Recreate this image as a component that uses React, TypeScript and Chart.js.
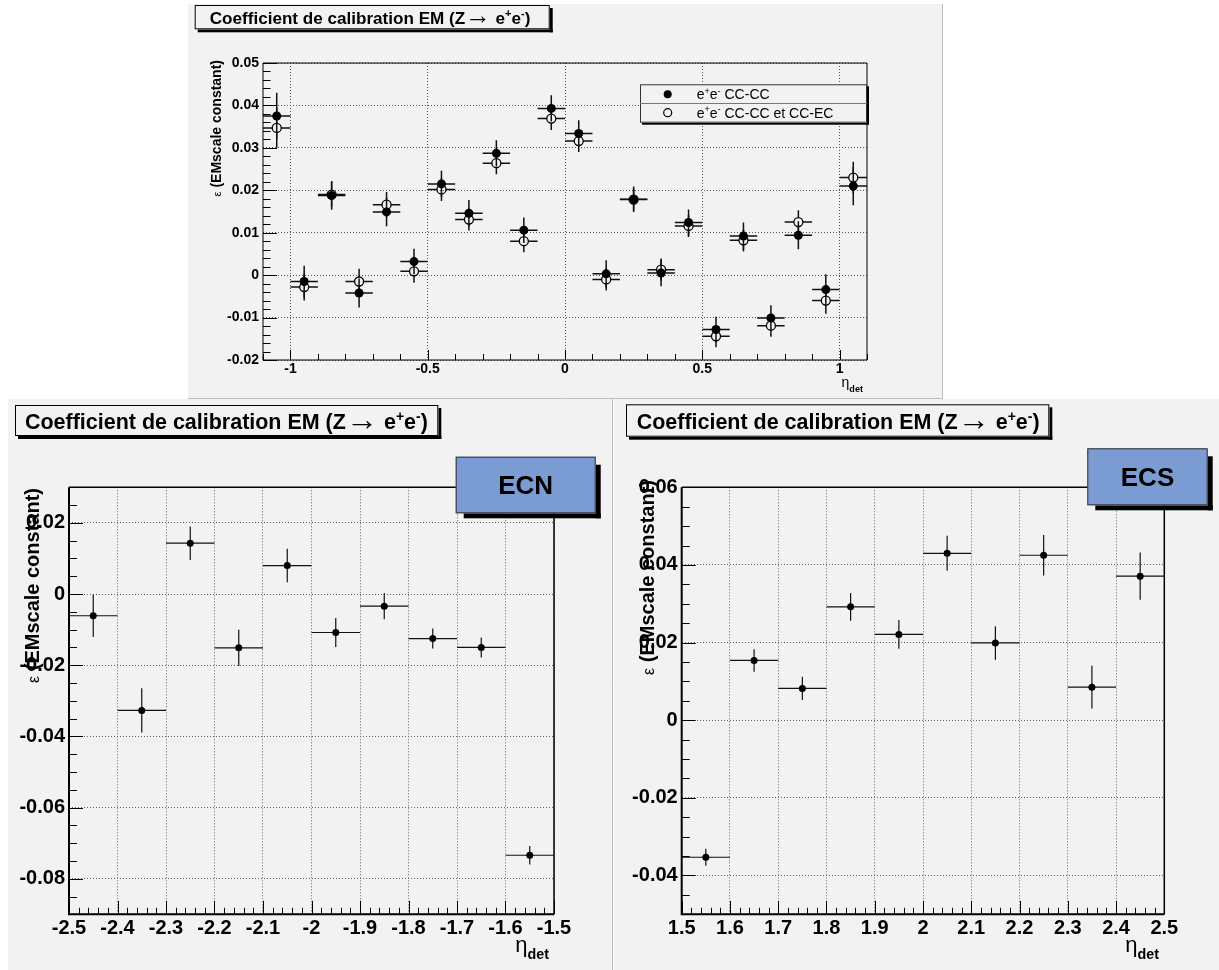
import React, { useEffect, useRef } from "react";
import { Chart, registerables } from "chart.js";

Chart.register(...registerables);

const FAMILY = '"Liberation Sans", Arial, Helvetica, sans-serif';
const BG = "#f2f2f2";
const BIN_HALF = 0.05;

// ---------- Top panel: CC (|eta_det| < 1.1) ----------
const etaCC = [-1.05, -0.95, -0.85, -0.75, -0.65, -0.55, -0.45, -0.35, -0.25, -0.15, -0.05, 0.05, 0.15, 0.25, 0.35, 0.45, 0.55, 0.65, 0.75, 0.85, 0.95, 1.05];
const epsCCCC = [0.0375, -0.0015, 0.0188, -0.0042, 0.0149, 0.0032, 0.0215, 0.0146, 0.0287, 0.0106, 0.0393, 0.0334, 0.0003, 0.0179, 0.0005, 0.0124, -0.0128, 0.0092, -0.0101, 0.0094, -0.0034, 0.021];
const errCCCC = [0.0055, 0.0037, 0.0034, 0.0034, 0.0034, 0.003, 0.0031, 0.0031, 0.0031, 0.003, 0.0031, 0.0031, 0.0032, 0.003, 0.0031, 0.0031, 0.003, 0.0032, 0.003, 0.0033, 0.0036, 0.0045];
const epsCCEC = [0.0347, -0.0028, 0.019, -0.0015, 0.0166, 0.0009, 0.0202, 0.0131, 0.0264, 0.008, 0.0369, 0.0316, -0.001, 0.0178, 0.0013, 0.0116, -0.0144, 0.0082, -0.0119, 0.0125, -0.006, 0.023];
const errCCEC = [0.0047, 0.0032, 0.003, 0.003, 0.003, 0.0027, 0.0027, 0.0026, 0.0026, 0.0026, 0.0027, 0.0026, 0.0026, 0.0026, 0.0026, 0.0026, 0.0026, 0.0026, 0.0026, 0.0028, 0.0031, 0.0037];
const xTicksCC = [-1, -0.5, 0, 0.5, 1];
const yTicksCC = [-0.02, -0.01, 0, 0.01, 0.02, 0.03, 0.04, 0.05];

// ---------- Bottom left: ECN ----------
const etaECN = [-2.45, -2.35, -2.25, -2.15, -2.05, -1.95, -1.85, -1.75, -1.65, -1.55];
const epsECN = [-0.0061, -0.0327, 0.0143, -0.0151, 0.008, -0.0108, -0.0034, -0.0125, -0.015, -0.0734];
const errECN = [0.006, 0.0062, 0.0047, 0.0051, 0.0047, 0.0041, 0.0037, 0.0028, 0.0028, 0.0026];
const xTicksECN = [-2.5, -2.4, -2.3, -2.2, -2.1, -2, -1.9, -1.8, -1.7, -1.6, -1.5];
const yTicksECN = [-0.08, -0.06, -0.04, -0.02, 0, 0.02];

// ---------- Bottom right: ECS ----------
const etaECS = [1.55, 1.65, 1.75, 1.85, 1.95, 2.05, 2.15, 2.25, 2.35, 2.45];
const epsECS = [-0.0353, 0.0154, 0.0082, 0.0292, 0.0221, 0.043, 0.0199, 0.0425, 0.0085, 0.0371];
const errECS = [0.0022, 0.0029, 0.003, 0.0036, 0.0037, 0.0045, 0.0043, 0.0052, 0.0055, 0.0061];
const xTicksECS = [1.5, 1.6, 1.7, 1.8, 1.9, 2, 2.1, 2.2, 2.3, 2.4, 2.5];
const yTicksECS = [-0.04, -0.02, 0, 0.02, 0.04, 0.06];

// ---------- Texts ----------
type Seg = { t: string; b?: boolean; sup?: boolean; sub?: boolean; k?: number };
const TITLE: Seg[] = [
  { t: "Coefficient de calibration EM (Z", b: true },
  { t: "\u2192", k: 1.5 },
  { t: " e", b: true },
  { t: "+", b: true, sup: true },
  { t: "e", b: true },
  { t: "-", b: true, sup: true },
  { t: ")", b: true },
];
const Y_TITLE: Seg[] = [{ t: "\u03b5", k: 0.8 }, { t: " (EMscale constant)", b: true }];
const X_TITLE: Seg[] = [{ t: "\u03b7" }, { t: "det", b: true, sub: true }];
const LABEL_CCCC: Seg[] = [{ t: "e" }, { t: "+", sup: true }, { t: "e" }, { t: "-", sup: true }, { t: " CC-CC" }];
const LABEL_CCEC: Seg[] = [{ t: "e" }, { t: "+", sup: true }, { t: "e" }, { t: "-", sup: true }, { t: " CC-CC et CC-EC" }];
const TAG_ECN = "ECN";
const TAG_ECS = "ECS";

function segFont(s: Seg, size: number) {
  const sz = size * (s.k ?? 1) * (s.sup || s.sub ? 0.65 : 1);
  return `${s.b ? "bold " : ""}${sz}px ${FAMILY}`;
}
function richWidth(ctx: CanvasRenderingContext2D, segs: Seg[], size: number) {
  let w = 0;
  for (const s of segs) {
    ctx.font = segFont(s, size);
    w += ctx.measureText(s.t).width;
  }
  return w;
}
function drawRich(ctx: CanvasRenderingContext2D, segs: Seg[], x: number, y: number, size: number) {
  ctx.textAlign = "left";
  ctx.textBaseline = "alphabetic";
  let cx = x;
  for (const s of segs) {
    ctx.font = segFont(s, size);
    const dy = s.sup ? -0.4 * size : s.sub ? 0.36 * size : (s.k ?? 1) > 1 ? 0.04 * size : 0;
    ctx.fillText(s.t, cx, y + dy);
    cx += ctx.measureText(s.t).width;
  }
}

type Box = [number, number, number, number];
interface SeriesCfg { label: Seg[]; x: number[]; y: number[]; err: number[]; filled: boolean }
interface PanelCfg {
  pos: [number, number, number, number];
  area: Box;
  xRange: [number, number];
  yRange: [number, number];
  xTicks: number[];
  yTicks: number[];
  xMinor: number;
  yMinor: number;
  tickFont: number;
  tickPad: [number, number];
  xLen: [number, number];
  yLen: [number, number];
  frame: [number, number];
  gridColor: string;
  markerR: number;
  errWidth: number;
  series: SeriesCfg[];
  title: { box: Box; textX: number; textW: number; cy: number; shadow: number };
  yTitle: { x: number; endY: number; size: number };
  xTitle: { right: number; base: number; size: number };
  legend?: { box: Box; sepY: number; markerX: number; rows: number[]; textX: number; size: number; r: number };
  tag?: { text: string; box: Box; size: number };
  borders: { right?: number; bottom?: number };
}

const topCfg: PanelCfg = {
  pos: [188, 4, 755, 395],
  area: [75, 59, 679, 356],
  xRange: [-1.1, 1.1],
  yRange: [-0.02, 0.05],
  xTicks: xTicksCC,
  yTicks: yTicksCC,
  xMinor: 0.1,
  yMinor: 0.002,
  tickFont: 14,
  tickPad: [1, 4],
  xLen: [10, 6],
  yLen: [14, 7.5],
  frame: [1, 1],
  gridColor: "#555",
  markerR: 4.5,
  errWidth: 1.5,
  series: [
    { label: LABEL_CCCC, x: etaCC, y: epsCCCC, err: errCCCC, filled: true },
    { label: LABEL_CCEC, x: etaCC, y: epsCCEC, err: errCCEC, filled: false },
  ],
  title: { box: [6.7, 1, 361.7, 25.3], textX: 21.7, textW: 321, cy: 13.5, shadow: 3 },
  yTitle: { x: 28, endY: 56, size: 14 },
  xTitle: { right: 675, base: 382.5, size: 14 },
  legend: { box: [452, 80.3, 679, 118.7], sepY: 99, markerX: 479.7, rows: [90.3, 108.7], textX: 508.7, size: 14, r: 4 },
  borders: { right: 754.5, bottom: 394.5 },
};

const ecnCfg: PanelCfg = {
  pos: [8, 399, 605, 571],
  area: [61, 88.3, 546, 515.3],
  xRange: [-2.5, -1.5],
  yRange: [-0.09, 0.03],
  xTicks: xTicksECN,
  yTicks: yTicksECN,
  xMinor: 0.02,
  yMinor: 0.005,
  tickFont: 20,
  tickPad: [2, 4],
  xLen: [13.5, 6.5],
  yLen: [14, 8],
  frame: [2, 1.5],
  gridColor: "#666",
  markerR: 3.5,
  errWidth: 1.2,
  series: [{ label: [], x: etaECN, y: epsECN, err: errECN, filled: true }],
  title: { box: [7, 6, 430.3, 37], textX: 17, textW: 403, cy: 22.7, shadow: 3 },
  yTitle: { x: 23.7, endY: 89, size: 20 },
  xTitle: { right: 541, base: 552.5, size: 22 },
  tag: { text: TAG_ECN, box: [447.7, 57.7, 587.7, 114.3], size: 26 },
  borders: { right: 604.5 },
};

const ecsCfg: PanelCfg = {
  pos: [614, 399, 605, 571],
  area: [67.7, 88.3, 550.3, 515.3],
  xRange: [1.5, 2.5],
  yRange: [-0.05, 0.06],
  xTicks: xTicksECS,
  yTicks: yTicksECS,
  xMinor: 0.02,
  yMinor: 0.005,
  tickFont: 20,
  tickPad: [2, 4],
  xLen: [13.5, 6.5],
  yLen: [14, 8],
  frame: [2, 1.5],
  gridColor: "#666",
  markerR: 3.5,
  errWidth: 1.2,
  series: [{ label: [], x: etaECS, y: epsECS, err: errECS, filled: true }],
  title: { box: [12, 5.3, 435.3, 37.7], textX: 22.7, textW: 403, cy: 22.5, shadow: 3 },
  yTitle: { x: 32.7, endY: 81, size: 20 },
  xTitle: { right: 545, base: 552.5, size: 22 },
  tag: { text: TAG_ECS, box: [473.3, 49.3, 593.7, 106.3], size: 26 },
  borders: {},
};

function drawShadowBox(ctx: CanvasRenderingContext2D, b: Box, fill: string, stroke: string, sh: number, off: number) {
  const [l, t, r, bt] = b;
  ctx.fillStyle = "#000";
  ctx.fillRect(r, t + off, sh, bt - t - off + sh);
  ctx.fillRect(l + off, bt, r - l - off + sh, sh);
  ctx.fillStyle = fill;
  ctx.fillRect(l, t, r - l, bt - t);
  ctx.strokeStyle = stroke;
  ctx.lineWidth = 1;
  ctx.strokeRect(l + 0.5, t + 0.5, r - l - 1, bt - t - 1);
}

function minorValues(min: number, max: number, step: number) {
  const out: number[] = [];
  const n0 = Math.ceil(min / step - 1e-6);
  const n1 = Math.floor(max / step + 1e-6);
  for (let n = n0; n <= n1; n++) out.push(n * step);
  return out;
}

function makePlugin(cfg: PanelCfg) {
  return {
    id: "rootStyle",
    beforeDraw(chart: any) {
      const ctx = chart.ctx as CanvasRenderingContext2D;
      ctx.save();
      ctx.fillStyle = BG;
      ctx.fillRect(0, 0, chart.width, chart.height);
      ctx.strokeStyle = "#bdbdbd";
      ctx.lineWidth = 1;
      if (cfg.borders.right !== undefined) {
        ctx.beginPath();
        ctx.moveTo(cfg.borders.right, 0);
        ctx.lineTo(cfg.borders.right, chart.height);
        ctx.stroke();
      }
      if (cfg.borders.bottom !== undefined) {
        ctx.beginPath();
        ctx.moveTo(0, cfg.borders.bottom);
        ctx.lineTo(chart.width, cfg.borders.bottom);
        ctx.stroke();
      }
      ctx.restore();
    },
    beforeDatasetDraw(chart: any, args: any) {
      const ctx = chart.ctx as CanvasRenderingContext2D;
      const ds = chart.data.datasets[args.index];
      const xs = chart.scales.x;
      const ys = chart.scales.y;
      const a = chart.chartArea;
      const gap = ds.filledMarker ? 0 : cfg.markerR;
      ctx.save();
      ctx.beginPath();
      ctx.rect(a.left, a.top, a.right - a.left, a.bottom - a.top);
      ctx.clip();
      ctx.strokeStyle = "#111";
      ctx.lineWidth = cfg.errWidth;
      ctx.beginPath();
      for (const p of ds.data) {
        const px = xs.getPixelForValue(p.x);
        const py = ys.getPixelForValue(p.y);
        const xl = xs.getPixelForValue(p.x - p.xe);
        const xr = xs.getPixelForValue(p.x + p.xe);
        const yt = ys.getPixelForValue(p.y + p.ye);
        const yb = ys.getPixelForValue(p.y - p.ye);
        ctx.moveTo(xl, py);
        ctx.lineTo(px - gap, py);
        ctx.moveTo(px + gap, py);
        ctx.lineTo(xr, py);
        if (yt < py - gap) {
          ctx.moveTo(px, yt);
          ctx.lineTo(px, py - gap);
        }
        if (yb > py + gap) {
          ctx.moveTo(px, py + gap);
          ctx.lineTo(px, yb);
        }
      }
      ctx.stroke();
      ctx.restore();
    },
    afterDatasetsDraw(chart: any) {
      const ctx = chart.ctx as CanvasRenderingContext2D;
      const xs = chart.scales.x;
      const ys = chart.scales.y;
      const a = chart.chartArea;
      ctx.save();
      ctx.fillStyle = "#000";
      ctx.strokeStyle = "#000";

      // ticks (inside, ROOT style)
      ctx.lineWidth = 1;
      ctx.beginPath();
      for (const v of minorValues(cfg.xRange[0], cfg.xRange[1], cfg.xMinor)) {
        const px = Math.round(xs.getPixelForValue(v)) + 0.5;
        const isMajor = cfg.xTicks.some((t) => Math.abs(t - v) < 1e-6);
        ctx.moveTo(px, a.bottom);
        ctx.lineTo(px, a.bottom - (isMajor ? cfg.xLen[0] : cfg.xLen[1]));
      }
      for (const v of minorValues(cfg.yRange[0], cfg.yRange[1], cfg.yMinor)) {
        const py = Math.round(ys.getPixelForValue(v)) + 0.5;
        const isMajor = cfg.yTicks.some((t) => Math.abs(t - v) < 1e-6);
        ctx.moveTo(a.left, py);
        ctx.lineTo(a.left + (isMajor ? cfg.yLen[0] : cfg.yLen[1]), py);
      }
      ctx.stroke();

      // frame
      ctx.lineWidth = cfg.frame[1];
      ctx.beginPath();
      ctx.moveTo(a.left, a.top);
      ctx.lineTo(a.right, a.top);
      ctx.lineTo(a.right, a.bottom);
      ctx.stroke();
      ctx.lineWidth = cfg.frame[0];
      ctx.beginPath();
      ctx.moveTo(a.left, a.top);
      ctx.lineTo(a.left, a.bottom);
      ctx.lineTo(a.right, a.bottom);
      ctx.stroke();

      // title box
      const tb = cfg.title;
      drawShadowBox(ctx, tb.box, BG, "#000", tb.shadow, tb.shadow);
      ctx.fillStyle = "#000";
      const tSize = (20 * tb.textW) / richWidth(ctx, TITLE, 20);
      drawRich(ctx, TITLE, tb.textX, tb.cy + 0.36 * tSize, tSize);

      // y title (rotated)
      ctx.save();
      ctx.translate(cfg.yTitle.x, cfg.yTitle.endY);
      ctx.rotate(-Math.PI / 2);
      const yw = richWidth(ctx, Y_TITLE, cfg.yTitle.size);
      drawRich(ctx, Y_TITLE, -yw, 0.36 * cfg.yTitle.size, cfg.yTitle.size);
      ctx.restore();

      // x title
      const xw = richWidth(ctx, X_TITLE, cfg.xTitle.size);
      drawRich(ctx, X_TITLE, cfg.xTitle.right - xw, cfg.xTitle.base, cfg.xTitle.size);

      // legend
      if (cfg.legend) {
        const lg = cfg.legend;
        drawShadowBox(ctx, lg.box, BG, "#333", 2, 2);
        ctx.strokeStyle = "#777";
        ctx.lineWidth = 1;
        ctx.beginPath();
        ctx.moveTo(lg.box[0], lg.sepY + 0.5);
        ctx.lineTo(lg.box[2], lg.sepY + 0.5);
        ctx.stroke();
        cfg.series.forEach((s, i) => {
          const cy = lg.rows[i];
          ctx.beginPath();
          ctx.arc(lg.markerX, cy, lg.r, 0, Math.PI * 2);
          if (s.filled) {
            ctx.fillStyle = "#000";
            ctx.fill();
          } else {
            ctx.strokeStyle = "#000";
            ctx.lineWidth = 1.2;
            ctx.stroke();
          }
          ctx.fillStyle = "#000";
          drawRich(ctx, s.label, lg.textX, cy + 0.36 * lg.size, lg.size);
        });
      }

      // tag box
      if (cfg.tag) {
        const tg = cfg.tag;
        drawShadowBox(ctx, tg.box, "#7b9bd3", "#333", 5, 8);
        ctx.fillStyle = "#000";
        ctx.font = `bold ${tg.size}px ${FAMILY}`;
        ctx.textAlign = "center";
        ctx.textBaseline = "alphabetic";
        ctx.fillText(tg.text, (tg.box[0] + tg.box[2]) / 2, (tg.box[1] + tg.box[3]) / 2 + 0.36 * tg.size);
      }
      ctx.restore();
    },
  };
}

function Panel({ cfg }: { cfg: PanelCfg }) {
  const ref = useRef<HTMLCanvasElement>(null);
  const [L, T, W, H] = cfg.pos;
  useEffect(() => {
    const canvas = ref.current;
    if (!canvas) return;
    const [al, at, ar, ab] = cfg.area;
    const tickFont = { family: FAMILY, size: cfg.tickFont, weight: "bold" as const };
    const chart = new Chart(canvas, {
      type: "scatter",
      data: {
        datasets: cfg.series.map((s) => ({
          label: s.label.map((g) => g.t).join(""),
          data: s.x.map((x, i) => ({ x, y: s.y[i], xe: BIN_HALF, ye: s.err[i] })),
          filledMarker: s.filled,
          pointRadius: cfg.markerR,
          pointHoverRadius: cfg.markerR,
          pointBackgroundColor: s.filled ? "#000" : "rgba(0,0,0,0)",
          pointBorderColor: "#000",
          pointBorderWidth: s.filled ? 0 : 1.3,
          showLine: false,
        })) as any,
      },
      options: {
        animation: false,
        responsive: false,
        maintainAspectRatio: false,
        devicePixelRatio: 1,
        events: [],
        layout: { padding: { left: 0, top: at, right: W - ar, bottom: 0 } },
        plugins: { legend: { display: false }, tooltip: { enabled: false }, title: { display: false } },
        scales: {
          x: {
            type: "linear",
            min: cfg.xRange[0],
            max: cfg.xRange[1],
            afterBuildTicks: (s: any) => {
              s.ticks = cfg.xTicks.map((v) => ({ value: v }));
            },
            afterFit: (s: any) => {
              s.height = H - ab;
            },
            grid: { color: cfg.gridColor, lineWidth: 1, drawTicks: false },
            border: { display: false, dash: [1, 2] },
            ticks: {
              color: "#000",
              font: tickFont,
              padding: cfg.tickPad[0],
              maxRotation: 0,
              minRotation: 0,
              autoSkip: false,
              callback: (v: any) => String(v),
            },
          },
          y: {
            type: "linear",
            min: cfg.yRange[0],
            max: cfg.yRange[1],
            afterBuildTicks: (s: any) => {
              s.ticks = cfg.yTicks.map((v) => ({ value: v }));
            },
            afterFit: (s: any) => {
              s.width = al;
            },
            grid: { color: cfg.gridColor, lineWidth: 1, drawTicks: false },
            border: { display: false, dash: [1, 2] },
            ticks: {
              color: "#000",
              font: tickFont,
              padding: cfg.tickPad[1],
              autoSkip: false,
              callback: (v: any) => String(v),
            },
          },
        },
      } as any,
      plugins: [makePlugin(cfg) as any],
    });
    return () => chart.destroy();
  }, [cfg]);
  return (
    <canvas
      ref={ref}
      width={W}
      height={H}
      style={{ position: "absolute", left: L, top: T, width: W, height: H, display: "block" }}
    />
  );
}

export default function App() {
  return (
    <div style={{ position: "absolute", left: 0, top: 0, width: 1219, height: 970, background: "#fff", overflow: "hidden" }}>
      <Panel cfg={topCfg} />
      <Panel cfg={ecnCfg} />
      <Panel cfg={ecsCfg} />
    </div>
  );
}
